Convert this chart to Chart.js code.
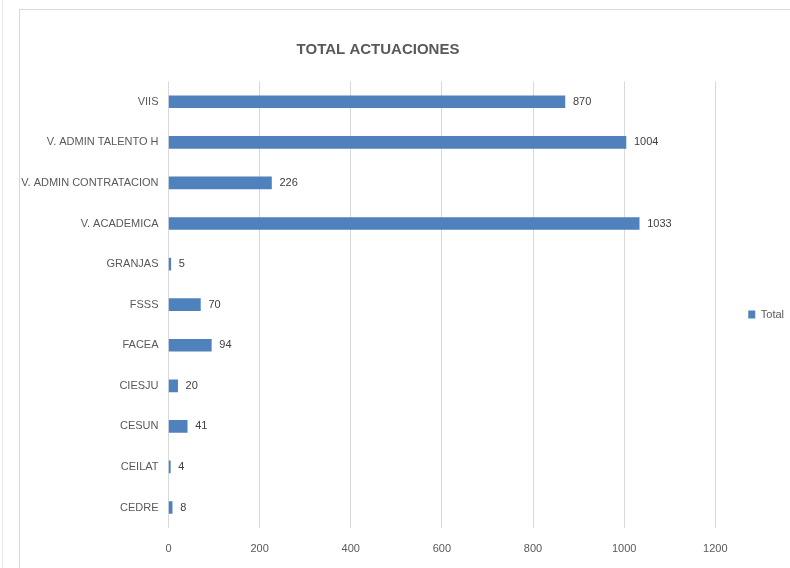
<!DOCTYPE html>
<html>
<head>
<meta charset="utf-8">
<script src="https://cdn.jsdelivr.net/npm/chart.js@4"></script>
<style>
  html, body { margin: 0; padding: 0; background: #fff; overflow: hidden; }
  body { width: 790px; height: 568px; position: relative; }
  #edge { position: absolute; left: 2px; top: 0; width: 1px; height: 568px; background: #e6e6e6; }
  #frame { position: absolute; left: 19px; top: 9px; width: 800px; height: 600px; border: 1px solid #d9d9d9; box-sizing: border-box; }
  #wrap { position: absolute; left: -38px; top: 0; width: 836px; height: 571px; }
</style>
</head>
<body>
<div id="edge"></div>
<div id="frame"></div>
<div id="wrap"><canvas id="chart"></canvas></div>
<script>
// Datos de la gráfica
const categorias = ['VIIS', 'V. ADMIN TALENTO H', 'V. ADMIN CONTRATACION', 'V. ACADEMICA', 'GRANJAS', 'FSSS', 'FACEA', 'CIESJU', 'CESUN', 'CEILAT', 'CEDRE'];
const totales = [870, 1004, 226, 1033, 5, 70, 94, 20, 41, 4, 8];
const nombreSerie = 'Total';
const titulo = 'TOTAL ACTUACIONES';

const fuente = "'Liberation Sans', Arial, sans-serif";

// Etiquetas de valor al final de cada barra
const etiquetasValor = {
    id: 'etiquetasValor',
    afterDatasetsDraw(chart) {
        const ctx = chart.ctx;
        const meta = chart.getDatasetMeta(0);
        ctx.save();
        ctx.font = '11px ' + fuente;
        ctx.fillStyle = '#404040';
        ctx.textAlign = 'left';
        ctx.textBaseline = 'middle';
        meta.data.forEach((bar, i) => {
            ctx.fillText(String(totales[i]), bar.x + 8, bar.y);
        });
        ctx.restore();
    }
};

const ctx = document.getElementById('chart').getContext('2d');

new Chart(ctx, {
    type: 'bar',
    data: {
        labels: categorias,
        datasets: [{
            label: nombreSerie,
            data: totales,
            backgroundColor: '#4f81bd',
            borderWidth: 0,
            barThickness: 12
        }]
    },
    options: {
        indexAxis: 'y',
        responsive: true,
        maintainAspectRatio: false,
        animation: false,
        layout: { padding: { top: 0, bottom: 0, left: 0, right: 4 } },
        plugins: {
            title: {
                display: true,
                text: titulo,
                color: '#595959',
                font: { family: fuente, size: 15, weight: 'bold' },
                padding: { top: 40.5, bottom: 23 }
            },
            legend: {
                position: 'right',
                // título vacío para bajar la leyenda
                title: { display: true, text: '', font: { size: 10 }, padding: 23 },
                labels: {
                    boxWidth: 7,
                    boxHeight: 8,
                    padding: 33,
                    color: '#595959',
                    font: { family: fuente, size: 11 }
                }
            },
            tooltip: { enabled: false }
        },
        scales: {
            x: {
                min: 0,
                max: 1200,
                ticks: {
                    stepSize: 200,
                    color: '#595959',
                    padding: 15,
                    font: { family: fuente, size: 11 },
                    callback: v => String(v)
                },
                grid: { color: '#d9d9d9', drawTicks: false },
                border: { display: false }
            },
            y: {
                ticks: { color: '#595959', padding: 2, font: { family: fuente, size: 11 } },
                grid: { display: false },
                border: { display: false },
                afterFit(scale) { scale.width = 206.5; }
            }
        }
    },
    plugins: [etiquetasValor]
});
</script>
</body>
</html>
